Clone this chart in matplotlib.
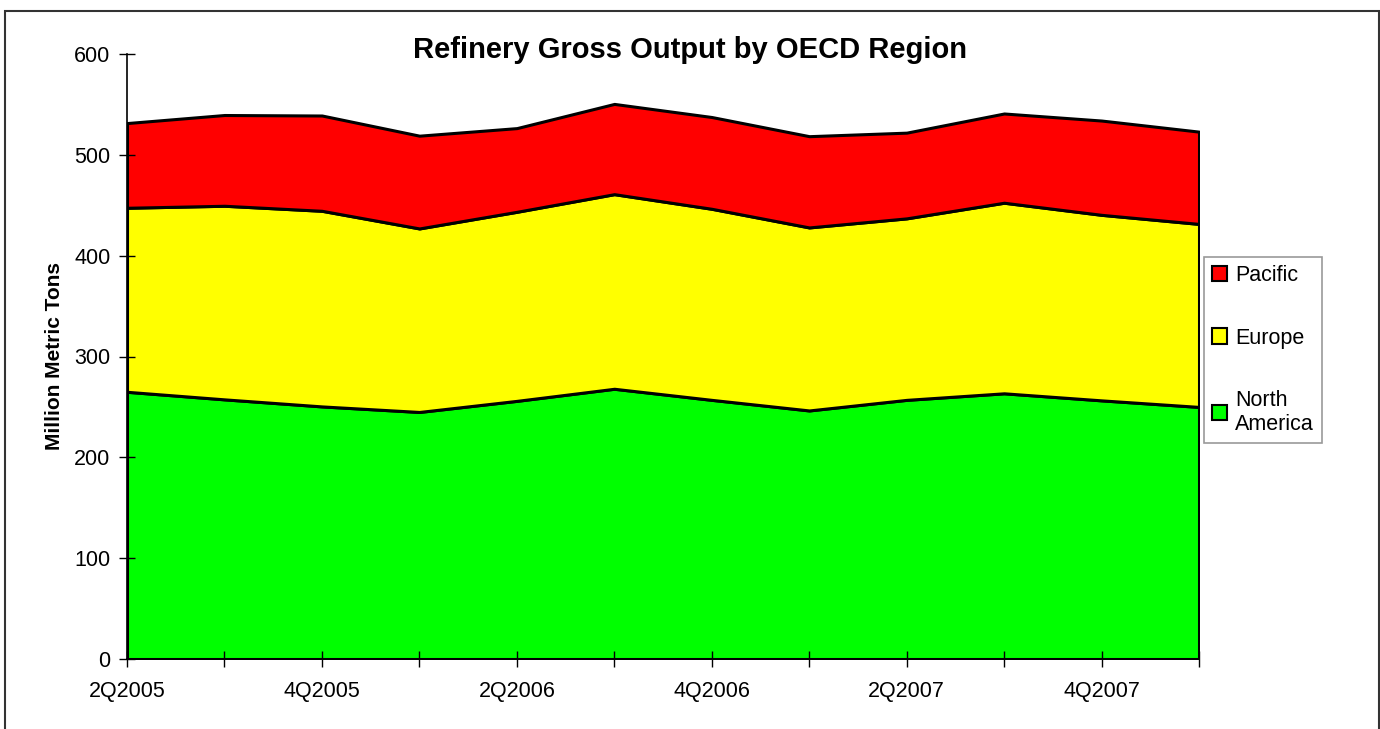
import matplotlib
matplotlib.use("Agg")
import matplotlib.pyplot as plt
from matplotlib.patches import Patch, Rectangle

quarters = ["2Q2005", "3Q2005", "4Q2005", "1Q2006", "2Q2006", "3Q2006",
            "4Q2006", "1Q2007", "2Q2007", "3Q2007", "4Q2007", "1Q2008"]
north_america = [265, 257.5, 250.5, 245, 256, 268, 257, 246.5, 257, 263.5, 256.5, 250]
europe = [182.5, 192, 194, 182, 187.5, 193, 189.5, 181.5, 180, 189, 184, 181.5]
pacific = [84, 90, 94.5, 92, 83, 89.5, 91, 90.5, 85, 88.5, 93.5, 91.5]

series_names = ["North America", "Europe", "Pacific"]
colors = ["#00FF00", "#FFFF00", "#FF0000"]

plt.rcParams['font.family'] = ['Liberation Sans', 'DejaVu Sans']

fig = plt.figure(figsize=(13.8, 7.29), dpi=100)
ax = fig.add_axes([127/1380, 1 - 659/729, (1199-127)/1380, (659-54)/729])

x = list(range(len(quarters)))
ax.stackplot(x, north_america, europe, pacific, colors=colors,
             edgecolor="black", linewidth=2.2)

ax.set_xlim(0, len(quarters) - 1)
ax.set_ylim(0, 600)
ax.set_yticks(range(0, 601, 100))
ax.set_xticks(x)
ax.set_xticklabels([q if i % 2 == 0 else "" for i, q in enumerate(quarters)])
ax.tick_params(axis="both", direction="inout", length=12, width=1,
               labelsize=15.5, colors="black")
ax.tick_params(axis="x", pad=10)
ax.tick_params(axis="y", pad=6)

for s in ["top", "right"]:
    ax.spines[s].set_visible(False)
ax.spines["left"].set_linewidth(1.2)
ax.spines["bottom"].set_linewidth(1.2)

ax.set_ylabel("Million Metric Tons", fontsize=15, fontweight="bold", labelpad=7)
fig.text(690/1380, 1 - 50/729, "Refinery Gross Output by OECD Region",
         ha="center", va="center", fontsize=21, fontweight="bold")

handles = [Patch(facecolor=colors[2], edgecolor="black", linewidth=1.5),
           Patch(facecolor=colors[1], edgecolor="black", linewidth=1.5),
           Patch(facecolor=colors[0], edgecolor="black", linewidth=1.5)]
labels = ["Pacific", "Europe", "North\nAmerica"]
leg = fig.legend(handles, labels, loc="upper left",
                 bbox_to_anchor=(1204/1380, 1 - 257/729),
                 fontsize=15.5, frameon=True, fancybox=False,
                 edgecolor="#808080", labelspacing=1.92,
                 handlelength=0.7, handleheight=0.7, handletextpad=0.35,
                 borderpad=0.38, borderaxespad=0)
leg.get_frame().set_linewidth(1.2)

fig.patches.append(Rectangle((5/1380, -0.05), (1379-5)/1380, 1.05 - 11/729,
                             transform=fig.transFigure, fill=False,
                             edgecolor="#333333", linewidth=1.5))

fig.savefig("out.png", dpi=100)
